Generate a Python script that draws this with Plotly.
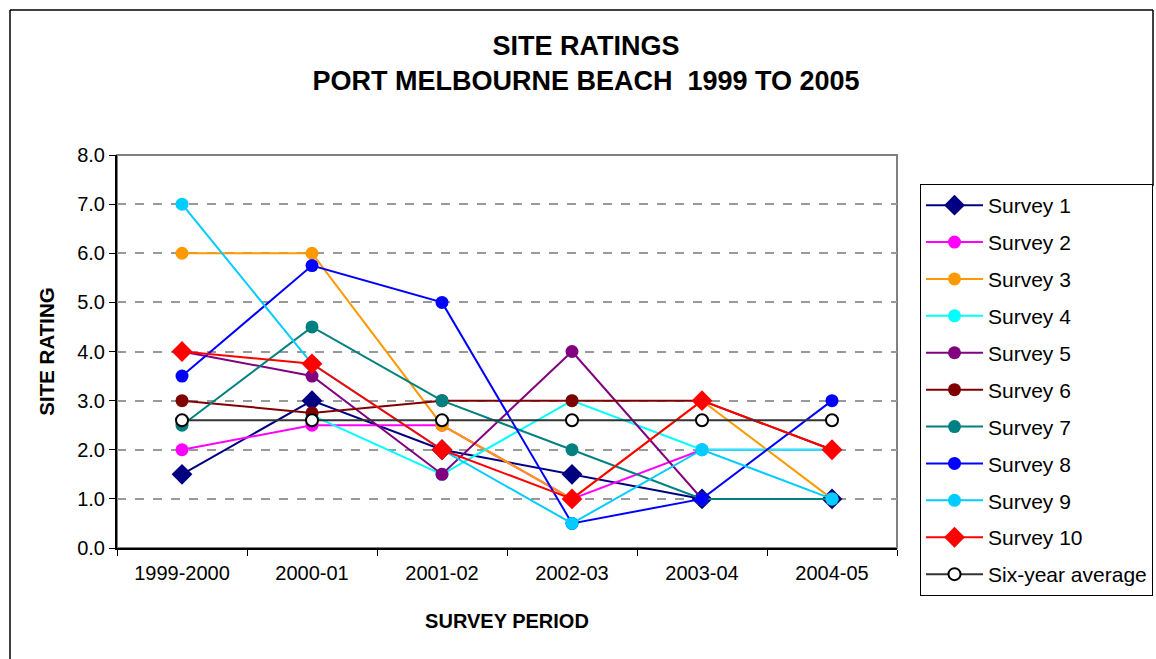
import plotly.graph_objects as go

periods = ["1999-2000", "2000-01", "2001-02", "2002-03", "2003-04", "2004-05"]

survey_1 = [1.5, 3.0, 2.0, 1.5, 1.0, 1.0]
survey_2 = [2.0, 2.5, 2.5, 1.0, 2.0, 2.0]
survey_3 = [6.0, 6.0, 2.5, 1.0, 3.0, 1.0]
survey_4 = [None, 2.7, 1.5, 3.0, 2.0, 2.0]
survey_5 = [4.0, 3.5, 1.5, 4.0, 1.0, 1.0]
survey_6 = [3.0, 2.75, 3.0, 3.0, 3.0, 2.0]
survey_7 = [2.5, 4.5, 3.0, 2.0, 1.0, 1.0]
survey_8 = [3.5, 5.75, 5.0, 0.5, 1.0, 3.0]
survey_9 = [7.0, 3.75, 2.0, 0.5, 2.0, 1.0]
survey_10 = [4.0, 3.75, 2.0, 1.0, 3.0, 2.0]
six_year_average = [2.6, 2.6, 2.6, 2.6, 2.6, 2.6]

series_names = ["Survey 1", "Survey 2", "Survey 3", "Survey 4", "Survey 5",
                "Survey 6", "Survey 7", "Survey 8", "Survey 9", "Survey 10"]
series_values = [survey_1, survey_2, survey_3, survey_4, survey_5,
                 survey_6, survey_7, survey_8, survey_9, survey_10]
series_colors = ["#000080", "#FF00FF", "#FF9900", "#00FFFF", "#800080",
                 "#800000", "#008080", "#0000FF", "#00CCFF", "#FF0000"]
series_symbols = ["diamond", "circle", "circle", "circle", "circle",
                  "circle", "circle", "circle", "circle", "diamond"]

y_ticks = [0, 1, 2, 3, 4, 5, 6, 7, 8]

W, H = 1156, 659
L, T, R, B = 117, 155, 1156 - 897, 659 - 548
PW, PH = W - L - R, H - T - B


def px_x(x):
    return (x - L) / PW


def px_y(y):
    return (H - B - y) / PH


fig = go.Figure()
for i, (name, vals, col, sym) in enumerate(zip(series_names, series_values, series_colors, series_symbols)):
    fig.add_trace(go.Scatter(
        x=periods, y=vals, name=name, mode="lines+markers",
        line=dict(color=col, width=2),
        marker=dict(color=col, symbol=sym, size=16 if sym == "diamond" else 13,
                    line=dict(width=0)),
        legendgroup="g%d" % i,
    ))
fig.add_trace(go.Scatter(
    x=periods, y=six_year_average, name="Six-year average", mode="lines+markers",
    line=dict(color="#333333", width=2),
    marker=dict(color="white", symbol="circle", size=12, line=dict(color="black", width=2)),
    legendgroup="avg",
))

font_family = "Liberation Sans, Arial, sans-serif"

fig.update_layout(
    width=W, height=H,
    paper_bgcolor="white", plot_bgcolor="white",
    margin=dict(l=L, r=R, t=T, b=B, autoexpand=False),
    font=dict(family=font_family, color="black", size=20),
    title=dict(
        text="<b>SITE RATINGS<br>PORT MELBOURNE BEACH&nbsp;&nbsp;1999 TO 2005</b>",
        x=586 / W, xanchor="center",
        y=1 - 55 / H, yanchor="top", yref="container",
        font=dict(size=27, family=font_family, color="black"),
    ),
    showlegend=True,
    legend=dict(
        x=px_x(920), xanchor="left",
        y=px_y(184), yanchor="top",
        bordercolor="black", borderwidth=1,
        font=dict(size=21, family=font_family),
        tracegroupgap=6.6,
        itemwidth=57,
        maxheight=620,
        bgcolor="white",
    ),
    xaxis=dict(
        type="category", range=[-0.5, 5.5],
        showline=True, linecolor="black", linewidth=2,
        ticks="outside", tickson="boundaries", ticklen=6, tickcolor="black", tickwidth=1,
        showgrid=False, zeroline=False,
        tickfont=dict(size=20),
        ticklabelstandoff=6,
        title=dict(text="<b>SURVEY PERIOD</b>", font=dict(size=20), standoff=31),
    ),
    yaxis=dict(
        range=[0, 8], tickvals=y_ticks, tickformat=".1f",
        showline=True, linecolor="black", linewidth=2,
        ticks="outside", ticklen=6, tickcolor="black",
        showgrid=True, gridcolor="#999999", griddash="dash", gridwidth=1.5,
        zeroline=False,
        tickfont=dict(size=20),
        title=dict(text="<b>SITE RATING</b>", font=dict(size=20.5), standoff=17),
    ),
    shapes=[
        dict(type="rect", xref="paper", yref="paper", x0=0, x1=1, y0=0, y1=1,
             line=dict(color="#808080", width=2), layer="below"),
        dict(type="line", xref="paper", yref="paper",
             x0=px_x(10), x1=px_x(10), y0=px_y(670), y1=px_y(10),
             line=dict(color="black", width=1.5)),
        dict(type="line", xref="paper", yref="paper",
             x0=px_x(10), x1=px_x(1153), y0=px_y(10), y1=px_y(10),
             line=dict(color="black", width=1.5)),
        dict(type="line", xref="paper", yref="paper",
             x0=px_x(1153), x1=px_x(1153), y0=px_y(186), y1=px_y(10),
             line=dict(color="black", width=1.5)),
    ],
)

fig.write_html("out.html", config={"displayModeBar": False},
               post_script="document.body.style.margin='0';")
